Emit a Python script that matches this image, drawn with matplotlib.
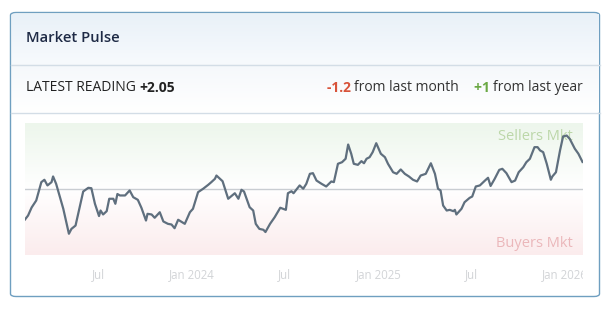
import numpy as np
import pandas as pd
import matplotlib
matplotlib.use("Agg")
import matplotlib.pyplot as plt
from matplotlib.patches import FancyBboxPatch
from matplotlib.colors import LinearSegmentedColormap
from matplotlib.transforms import Bbox, TransformedBbox, IdentityTransform
import matplotlib.dates as mdates

plt.rcParams['font.family'] = ['Open Sans', 'DejaVu Sans']

# ---------------- data ----------------
title = "Market Pulse"
latest_label = "LATEST READING"
latest_value = "+2.05"
month_change = "-1.2"
month_text = "from last month"
year_change = "+1"
year_text = "from last year"

dates = [
    "2023-02-08", "2023-02-14", "2023-02-21", "2023-03-02", "2023-03-06", "2023-03-12",
    "2023-03-18", "2023-03-24", "2023-04-01", "2023-04-04", "2023-04-10", "2023-04-24",
    "2023-05-05", "2023-05-10", "2023-05-18", "2023-06-02", "2023-06-12", "2023-06-18",
    "2023-06-25", "2023-07-03", "2023-07-06", "2023-07-11", "2023-07-18", "2023-07-23",
    "2023-07-31", "2023-08-04", "2023-08-08", "2023-08-13", "2023-08-23", "2023-09-01",
    "2023-09-08", "2023-09-17", "2023-09-24", "2023-10-03", "2023-10-06", "2023-10-14",
    "2023-10-20", "2023-10-30", "2023-11-06", "2023-11-15", "2023-11-22", "2023-11-28",
    "2023-12-05", "2023-12-18", "2023-12-28", "2024-01-03", "2024-01-13", "2024-01-23",
    "2024-02-02", "2024-02-08", "2024-02-15", "2024-02-18", "2024-03-01", "2024-03-12",
    "2024-03-25", "2024-04-01", "2024-04-07", "2024-04-12", "2024-04-23", "2024-04-30",
    "2024-05-05", "2024-05-12", "2024-05-20", "2024-05-24", "2024-06-02", "2024-06-11",
    "2024-06-22", "2024-07-03", "2024-07-07", "2024-07-14", "2024-07-18", "2024-07-30",
    "2024-08-06", "2024-08-12", "2024-08-19", "2024-08-25", "2024-09-01", "2024-09-11",
    "2024-09-20", "2024-09-30", "2024-10-05", "2024-10-13", "2024-10-21", "2024-10-28",
    "2024-11-02", "2024-11-08", "2024-11-13", "2024-11-21", "2024-11-28", "2024-12-03",
    "2024-12-08", "2024-12-14", "2024-12-20", "2024-12-27", "2025-01-05", "2025-01-13",
    "2025-01-19", "2025-01-29", "2025-02-05", "2025-02-13", "2025-02-21", "2025-03-01",
    "2025-03-09", "2025-03-17", "2025-03-24", "2025-04-03", "2025-04-13", "2025-04-21",
    "2025-04-27", "2025-05-02", "2025-05-07", "2025-05-14", "2025-05-20", "2025-05-27",
    "2025-05-30", "2025-06-02", "2025-06-12", "2025-06-18", "2025-06-28", "2025-07-03",
    "2025-07-10", "2025-07-18", "2025-07-28", "2025-08-03", "2025-08-08", "2025-08-16",
    "2025-08-25", "2025-08-31", "2025-09-08", "2025-09-18", "2025-09-25", "2025-10-02",
    "2025-10-11", "2025-10-17", "2025-10-24", "2025-11-02", "2025-11-08", "2025-11-13",
    "2025-11-19", "2025-11-26", "2025-12-04", "2025-12-07", "2025-12-14", "2025-12-22",
    "2025-12-28", "2026-01-04", "2026-01-10", "2026-01-20", "2026-01-27", "2026-02-04",
]
values = [
    -2.31, -2.01, -1.40, -0.87, -0.32, 0.52,
    0.70, 0.27, 0.52, 0.95, 0.39, -1.50,
    -3.39, -3.02, -2.77, -0.19, 0.09, 0.06,
    -1.12, -2.05, -1.63, -1.93, -1.68, -0.74,
    -0.74, -1.12, -0.38, -0.49, -0.49, -0.11,
    -0.62, -0.82, -1.42, -2.39, -1.88, -1.93,
    -2.18, -1.76, -2.46, -2.64, -2.69, -2.97,
    -2.33, -2.64, -1.76, -1.50, -0.24, 0.02,
    0.32, 0.52, 0.77, 1.02, 0.59, -0.74,
    -0.32, -0.74, -0.06, -0.19, -1.38, -1.63,
    -2.64, -3.02, -3.09, -3.26, -2.64, -2.14,
    -1.42, -1.58, -0.32, -0.17, -0.32, 0.27,
    0.02, 0.39, 1.15, 1.20, 0.64, 0.39,
    0.19, 0.57, 0.52, 1.91, 2.03, 2.29,
    3.37, 2.67, 1.91, 1.83, 2.11, 1.95,
    2.29, 2.41, 2.79, 3.47, 2.67, 2.41,
    1.91, 1.27, 1.15, 1.48, 1.15, 0.95,
    0.70, 0.57, 1.02, 1.15, 1.95, 1.15,
    0.02, -0.11, -1.25, -1.63, -1.58, -1.68,
    -1.58, -1.93, -1.50, -1.00, -0.67, -0.57,
    0.19, 0.27, 0.64, 0.85, 0.23, 0.77,
    1.45, 1.53, 1.20, 0.52, 0.64, 1.27,
    1.65, 2.03, 2.29, 3.17, 3.17, 2.92,
    2.79, 1.91, 0.70, 0.95, 1.27, 2.92,
    3.98, 4.05, 3.80, 3.05, 2.67, 2.05,
]
tick_dates = ["2023-07-01", "2024-01-01", "2024-07-01", "2025-01-01", "2025-07-01", "2026-01-01"]
tick_labels = ["Jul", "Jan 2024", "Jul", "Jan 2025", "Jul", "Jan 2026"]
x_start, x_end = "2023-02-08", "2026-02-05"
y_min, y_max = -5, 5
upper_label = "Sellers Mkt"
lower_label = "Buyers Mkt"

# ---------------- figure ----------------
W, H = 616, 309
fig = plt.figure(figsize=(W / 100, H / 100), dpi=100)
fig.patch.set_facecolor("white")

def fx(px):
    return px / W

def fy(py):
    return 1 - py / H

# card
card_l, card_t, card_r, card_b = 10.5, 12.5, 599.5, 296.5
card = FancyBboxPatch((fx(card_l), fy(card_b)), fx(card_r - card_l), (card_b - card_t) / H,
                      boxstyle="round,pad=0,rounding_size=0.009",
                      transform=fig.transFigure, facecolor="white",
                      edgecolor="#6f9fc0", linewidth=1.0, zorder=-1)
fig.patches.append(card)

# header gradient
grad = np.linspace(0, 1, 64).reshape(-1, 1)
hdr_ax = fig.add_axes([fx(card_l + 1), fy(64), fx(card_r - card_l - 2), (64 - card_t - 1.5) / H])
hdr_ax.axis("off")
hdr_cmap = LinearSegmentedColormap.from_list("h", ["#e9f1f8", "#f7fafd"])
hdr_ax.imshow(grad, aspect="auto", cmap=hdr_cmap, extent=[0, 1, 0, 1], origin="upper")

row_ax = fig.add_axes([fx(card_l + 1), fy(112), fx(card_r - card_l - 2), (112 - 64) / H])
row_ax.axis("off")
row_cmap = LinearSegmentedColormap.from_list("r", ["#f5f8fb", "#ffffff"])
row_ax.imshow(grad, aspect="auto", cmap=row_cmap, extent=[0, 1, 0, 1], origin="upper")

# dividers
for yy in (64.5, 112.5):
    fig.add_artist(plt.Line2D([fx(card_l), fx(card_r)], [fy(yy), fy(yy)],
                              transform=fig.transFigure, color="#d3dde6", lw=1.0, zorder=3))

fig.text(fx(26), fy(38.5), title, fontsize=10.6, fontweight="semibold",
         color="#1e2a45", va="center", ha="left", zorder=5)

# reading row
renderer = fig.canvas.get_renderer()
row_y = fy(88)
fs_row = 10.0
t1 = fig.text(fx(26), row_y, latest_label + " ", fontsize=fs_row, color="#222222",
              va="center", ha="left", zorder=5)
ext = t1.get_window_extent(renderer)
fig.text(ext.x1 / W, row_y, latest_value, fontsize=fs_row, fontweight="bold",
         color="#222222", va="center", ha="left", zorder=5)

# right aligned pieces, built from right to left
pieces = [(year_text, "normal", "#333333"), (year_change + " ", "bold", "#6aa843"),
          ("    ", "normal", "#333333"),
          (month_text, "normal", "#333333"), (month_change + " ", "bold", "#d8533a")]
right = 583
for txt, wt, col in pieces:
    t = fig.text(right / W, row_y, txt, fontsize=fs_row, fontweight=wt, color=col,
                 va="center", ha="right", zorder=5)
    e = t.get_window_extent(renderer)
    right = e.x0

# ---------------- chart ----------------
ax = fig.add_axes([fx(25), fy(255), fx(583 - 25), (255 - 123) / H])
x = pd.to_datetime(dates)
xs, xe = pd.Timestamp(x_start), pd.Timestamp(x_end)

bg_cmap = LinearSegmentedColormap.from_list(
    "bg", [(0.0, "#fbeced"), (0.5, "#ffffff"), (1.0, "#edf6ec")])
yy = np.linspace(y_min, y_max, 200).reshape(-1, 1)
ax.imshow((yy - y_min) / (y_max - y_min), aspect="auto", cmap=bg_cmap,
          extent=[mdates.date2num(xs), mdates.date2num(xe), y_min, y_max],
          origin="lower", zorder=0, vmin=0, vmax=1)
ax.set_xlim(xs, xe)
ax.set_ylim(y_min, y_max)

ax.axhline(0, color="#c9cdd2", lw=1.0, zorder=1)
ax.plot(x, values, color="#5f6f7e", lw=1.6, zorder=3, solid_joinstyle="round")

ax.text(0.982, 0.895, upper_label, transform=ax.transAxes, ha="right", va="center",
        fontsize=10.5, color="#bcd7a9", zorder=2)
ax.text(0.982, 0.09, lower_label, transform=ax.transAxes, ha="right", va="center",
        fontsize=10.5, color="#ebb7ba", zorder=2)

for s in ax.spines.values():
    s.set_visible(False)
ax.set_xticks([])
ax.set_yticks([])

clip = TransformedBbox(Bbox([[0, 0], [583, H]]), IdentityTransform())
for d, lab in zip(tick_dates, tick_labels):
    t = ax.text(pd.Timestamp(d), -0.145, lab, transform=ax.get_xaxis_transform(),
                ha="center", va="center", fontsize=8.3, color="#d2d4d7", clip_on=True)
    t.set_clip_box(clip)

fig.savefig("out.png", dpi=100)
